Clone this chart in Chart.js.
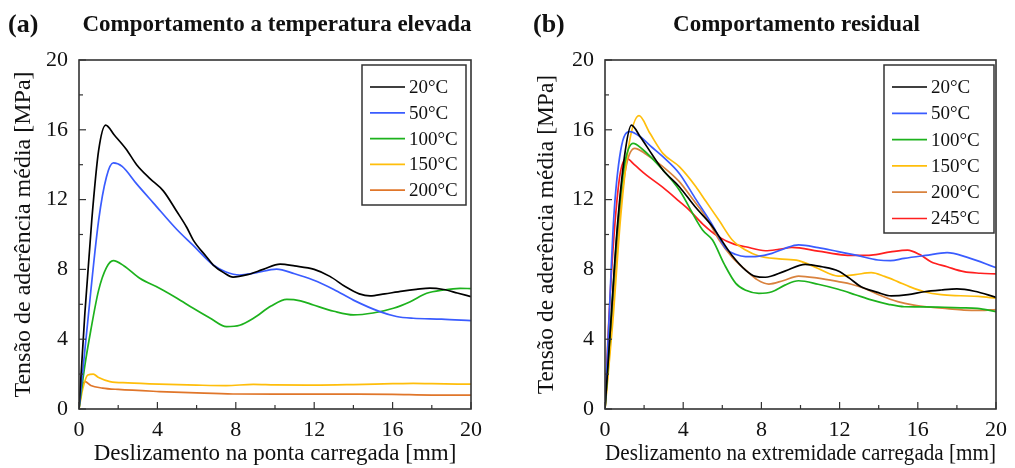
<!DOCTYPE html>
<html lang="pt">
<head>
<meta charset="UTF-8">
<title>Tensão de aderência média</title>
<script src="https://cdn.jsdelivr.net/npm/chart.js"></script>
<style>
  body { margin: 0; background: #fff; }
  .panel { position: absolute; top: 0; height: 468px; }
  #wrapA { left: 0; width: 507px; }
  #wrapB { left: 507px; width: 508px; }
</style>
</head>
<body>
<div class="panel" id="wrapA"><canvas id="chartA" width="507" height="468"></canvas></div>
<div class="panel" id="wrapB"><canvas id="chartB" width="508" height="468"></canvas></div>
<script>
// ---- (a) Comportamento a temperatura elevada ----
const aX20 = [0, 0.3, 0.65, 1.0, 1.36, 1.8, 2.4, 2.94, 3.62, 4.3, 5.0, 5.5, 5.83, 6.5, 6.85, 7.4, 7.86, 8.6, 9.4, 10.26, 11.0, 12.0, 12.8, 13.6, 14.3, 14.85, 15.6, 16.5, 17.2, 17.9, 18.6, 19.3, 20];
const aY20 = [0, 5.5, 10.8, 14.8, 16.27, 15.7, 14.9, 14.0, 13.2, 12.5, 11.3, 10.4, 9.68, 8.73, 8.25, 7.8, 7.56, 7.7, 8.0, 8.3, 8.2, 8.0, 7.6, 7.0, 6.6, 6.48, 6.6, 6.75, 6.85, 6.93, 6.85, 6.65, 6.44];
const aX50 = [0, 0.4, 1.0, 1.4, 1.75, 2.2, 2.94, 3.8, 4.98, 5.8, 6.85, 7.5, 8.2, 9.0, 10.08, 11.0, 11.95, 13.0, 14.0, 15.35, 16.2, 17.05, 18.5, 20];
const aY50 = [0, 4.5, 10.8, 13.3, 14.1, 13.9, 12.9, 11.8, 10.3, 9.4, 8.25, 7.85, 7.68, 7.8, 8.02, 7.75, 7.39, 6.85, 6.24, 5.58, 5.3, 5.2, 5.15, 5.06];
const aX100 = [0, 0.3, 0.6, 1.0, 1.4, 1.75, 2.3, 3.1, 4.13, 5.0, 5.83, 6.7, 7.53, 8.2, 8.9, 9.8, 10.6, 11.3, 11.96, 13.0, 14.0, 15.0, 16.04, 16.9, 17.74, 18.6, 19.44, 20];
const aY100 = [0, 2.5, 4.5, 6.8, 8.1, 8.5, 8.2, 7.49, 6.91, 6.35, 5.77, 5.2, 4.72, 4.8, 5.2, 5.9, 6.28, 6.2, 5.96, 5.6, 5.39, 5.5, 5.77, 6.15, 6.63, 6.82, 6.91, 6.9];
const aX150 = [0, 0.2, 0.45, 0.73, 1.0, 1.58, 2.5, 4.1, 6.0, 7.5, 8.9, 10, 12, 14, 16, 17.05, 18, 20];
const aY150 = [0, 1.2, 1.95, 2.0, 1.8, 1.57, 1.5, 1.43, 1.37, 1.34, 1.41, 1.38, 1.37, 1.4, 1.45, 1.47, 1.45, 1.42];
const aX200 = [0, 0.15, 0.31, 0.6, 1.2, 2.0, 4.1, 6.0, 7.86, 10, 12, 14, 16, 18, 20];
const aY200 = [0, 1.2, 1.57, 1.35, 1.2, 1.12, 1.0, 0.92, 0.86, 0.85, 0.85, 0.85, 0.84, 0.8, 0.8];

// ---- (b) Comportamento residual ----
const bX20 = [0, 0.3, 0.6, 1.0, 1.35, 1.8, 2.4, 2.96, 3.8, 4.6, 5.5, 5.84, 6.5, 7.2, 7.7, 8.2, 9.2, 10.24, 11.1, 11.93, 12.5, 13.1, 13.9, 14.64, 15.5, 16.33, 17.2, 18.0, 18.9, 20];
const bY20 = [0, 5, 10, 14.5, 16.27, 15.6, 14.6, 13.7, 12.74, 11.6, 10.45, 9.88, 8.8, 7.95, 7.6, 7.55, 7.9, 8.29, 8.15, 7.91, 7.5, 7.0, 6.7, 6.48, 6.55, 6.72, 6.82, 6.88, 6.75, 6.4];
const bX50 = [0, 0.2, 0.45, 0.8, 1.27, 1.8, 2.4, 2.96, 3.8, 4.6, 5.5, 6.18, 6.7, 7.19, 7.8, 8.54, 9.2, 9.9, 10.9, 11.93, 12.9, 13.96, 14.6, 15.3, 16.4, 17.5, 18.5, 20];
const bY50 = [0, 5, 11, 14.8, 15.9, 15.6, 15.0, 14.46, 13.5, 12.1, 10.54, 9.2, 8.85, 8.73, 8.75, 8.92, 9.2, 9.4, 9.25, 9.02, 8.8, 8.54, 8.5, 8.63, 8.8, 8.96, 8.7, 8.1];
const bX100 = [0, 0.3, 0.65, 1.0, 1.44, 1.9, 2.96, 3.8, 4.99, 5.5, 6.1, 6.69, 7.2, 7.87, 8.54, 9.2, 9.9, 10.9, 11.93, 12.8, 13.62, 14.5, 15.31, 16.3, 17.35, 18.2, 19.04, 20];
const bY100 = [0, 5, 10.5, 14, 15.22, 14.9, 13.7, 12.55, 10.26, 9.68, 8.3, 7.2, 6.8, 6.63, 6.72, 7.1, 7.35, 7.15, 6.86, 6.55, 6.25, 6.0, 5.86, 5.85, 5.83, 5.8, 5.77, 5.58];
const bX150 = [0, 0.4, 0.8, 1.2, 1.74, 2.3, 2.96, 3.8, 4.65, 5.16, 5.84, 6.5, 7.19, 7.87, 8.9, 9.9, 10.9, 11.93, 12.8, 13.62, 14.3, 14.97, 15.6, 16.33, 17.2, 18.19, 19.1, 20];
const bY150 = [0, 5, 11, 15, 16.81, 15.8, 14.65, 13.89, 12.74, 11.9, 10.8, 9.7, 9.11, 8.77, 8.6, 8.5, 8.05, 7.62, 7.7, 7.81, 7.6, 7.3, 7.0, 6.72, 6.55, 6.49, 6.45, 6.35];
const bX200 = [0, 0.35, 0.75, 1.1, 1.52, 2.1, 2.96, 3.8, 4.5, 5.16, 5.84, 6.5, 7.19, 7.8, 8.38, 9.1, 9.9, 10.9, 11.93, 12.6, 13.28, 14.1, 14.97, 15.8, 16.67, 17.5, 18.36, 19.2, 20];
const bY200 = [0, 5, 11, 14, 14.94, 14.6, 13.89, 13.03, 12.0, 11.02, 9.68, 8.7, 7.97, 7.4, 7.16, 7.35, 7.62, 7.5, 7.3, 7.15, 6.91, 6.5, 6.15, 5.95, 5.83, 5.75, 5.67, 5.65, 5.7];
const bX245 = [0, 0.15, 0.4, 0.75, 1.1, 1.5, 2.12, 2.96, 3.8, 4.31, 5.0, 5.84, 6.6, 7.19, 8.2, 8.9, 9.56, 10.9, 12.27, 13.0, 13.62, 14.6, 15.48, 16.1, 16.67, 17.5, 18.36, 19.2, 20];
const bY245 = [0, 4, 9, 13.3, 14.37, 14.0, 13.4, 12.7, 11.9, 11.4, 10.6, 9.85, 9.45, 9.3, 9.07, 9.15, 9.26, 9.05, 8.82, 8.8, 8.82, 9.0, 9.11, 8.85, 8.44, 8.15, 7.87, 7.78, 7.74];

const labelsA = ['20°C', '50°C', '100°C', '150°C', '200°C'];
const labelsB = ['20°C', '50°C', '100°C', '150°C', '200°C', '245°C'];
const xTicks = [0, 4, 8, 12, 16, 20];

const serif = '"Liberation Serif", "Times New Roman", serif';

function pts(xs, ys) {
  return xs.map((x, i) => ({ x: x, y: ys[i] }));
}

function series(label, xs, ys, color) {
  return {
    label: label,
    data: pts(xs, ys),
    borderColor: color,
    backgroundColor: color,
    borderWidth: 1.7,
    pointRadius: 0,
    cubicInterpolationMode: 'monotone',
    fill: false
  };
}

// frame, inward ticks, legend box and panel titles
const framePlugin = {
  id: 'frame',
  afterDraw(chart, args, opts) {
    const ctx = chart.ctx;
    const a = chart.chartArea;
    const xs = chart.scales.x, ys = chart.scales.y;
    ctx.save();
    ctx.strokeStyle = '#333';
    ctx.lineWidth = 1.2;
    xs.ticks.forEach(t => {
      const px = xs.getPixelForValue(t.value);
      const len = t.value % 4 === 0 ? 7 : 4;
      ctx.beginPath(); ctx.moveTo(px, a.bottom); ctx.lineTo(px, a.bottom - len); ctx.stroke();
    });
    ys.ticks.forEach(t => {
      const py = ys.getPixelForValue(t.value);
      const len = t.value % 4 === 0 ? 7 : 4;
      ctx.beginPath(); ctx.moveTo(a.left, py); ctx.lineTo(a.left + len, py); ctx.stroke();
    });
    ctx.lineWidth = 1.6;
    ctx.strokeRect(a.left, a.top, a.right - a.left, a.bottom - a.top);

    // legend
    const lg = opts.legend;
    ctx.fillStyle = '#fff';
    ctx.fillRect(lg.left, lg.top, lg.width, lg.height);
    ctx.lineWidth = 1.5;
    ctx.strokeRect(lg.left, lg.top, lg.width, lg.height);
    ctx.font = '19px ' + serif;
    ctx.textBaseline = 'middle';
    ctx.textAlign = 'left';
    chart.data.datasets.forEach((ds, i) => {
      const y = lg.first + i * lg.step;
      ctx.strokeStyle = ds.borderColor;
      ctx.lineWidth = 1.7;
      ctx.beginPath(); ctx.moveTo(lg.left + 8, y); ctx.lineTo(lg.left + 43, y); ctx.stroke();
      ctx.fillStyle = '#111';
      ctx.fillText(ds.label, lg.left + 47, y + 1);
    });

    // titles
    ctx.fillStyle = '#111';
    ctx.textBaseline = 'alphabetic';
    ctx.font = 'bold 26px ' + serif;
    ctx.textAlign = 'left';
    ctx.fillText(opts.tag, opts.tagX, 32);
    ctx.font = 'bold 23px ' + serif;
    ctx.textAlign = 'center';
    ctx.fillText(opts.title, (a.left + a.right) / 2 + opts.titleShift, 31);
    ctx.restore();
  }
};

function makeChart(id, datasets, o) {
  return new Chart(document.getElementById(id), {
    type: 'line',
    data: { datasets: datasets },
    plugins: [framePlugin],
    options: {
      responsive: false,
      animation: false,
      events: [],
      layout: { padding: { top: 60, right: o.padRight, bottom: 0, left: 0 } },
      plugins: {
        legend: { display: false },
        tooltip: { enabled: false },
        frame: o.frame
      },
      scales: {
        x: {
          type: 'linear', min: 0, max: 20,
          afterFit: s => { s.height = 59; },
          grid: { display: false, drawTicks: false },
          border: { display: false },
          ticks: {
            stepSize: 2, padding: 8, color: '#111', maxRotation: 0,
            font: { family: serif, size: 22 },
            callback: v => (xTicks.includes(v) ? v : '')
          },
          title: {
            display: true, text: o.xTitle, color: '#111',
            font: { family: serif, size: 23 }, padding: { top: 0, bottom: 0 }
          }
        },
        y: {
          min: 0, max: 20,
          afterFit: s => { s.width = o.yWidth; },
          grid: { display: false, drawTicks: false },
          border: { display: false },
          ticks: {
            stepSize: 2, padding: 11, color: '#111',
            font: { family: serif, size: 22 },
            callback: v => (v % 4 === 0 ? v : '')
          },
          title: {
            display: true, text: 'Tensão de aderência média [MPa]', color: '#111',
            font: { family: serif, size: o.yTitleSize }, padding: { top: o.yTitlePad, bottom: 0 }
          }
        }
      }
    }
  });
}

makeChart('chartA', [
  series(labelsA[0], aX20, aY20, '#000000'),
  series(labelsA[1], aX50, aY50, '#3a5cff'),
  series(labelsA[2], aX100, aY100, '#1db21d'),
  series(labelsA[3], aX150, aY150, '#ffbe0b'),
  series(labelsA[4], aX200, aY200, '#e0762a')
], {
  padRight: 36, yWidth: 79, yTitlePad: 9, yTitleSize: 24,
  xTitle: 'Deslizamento na ponta carregada [mm]',
  frame: {
    tag: '(a)', tagX: 8, title: 'Comportamento a temperatura elevada', titleShift: 2,
    legend: { left: 362, top: 65, width: 104, height: 140, first: 87, step: 25.8 }
  }
});

makeChart('chartB', [
  series(labelsB[0], bX20, bY20, '#000000'),
  series(labelsB[1], bX50, bY50, '#3a5cff'),
  series(labelsB[2], bX100, bY100, '#1db21d'),
  series(labelsB[3], bX150, bY150, '#ffbe0b'),
  series(labelsB[4], bX200, bY200, '#d9823e'),
  series(labelsB[5], bX245, bY245, '#ff1f1f')
], {
  padRight: 16, yWidth: 98, yTitlePad: 26, yTitleSize: 23.5,
  xTitle: 'Deslizamento na extremidade carregada [mm]',
  frame: {
    tag: '(b)', tagX: 26, title: 'Comportamento residual', titleShift: -4,
    legend: { left: 377, top: 65, width: 110, height: 168, first: 87, step: 26.3 }
  }
});
</script>
</body>
</html>
